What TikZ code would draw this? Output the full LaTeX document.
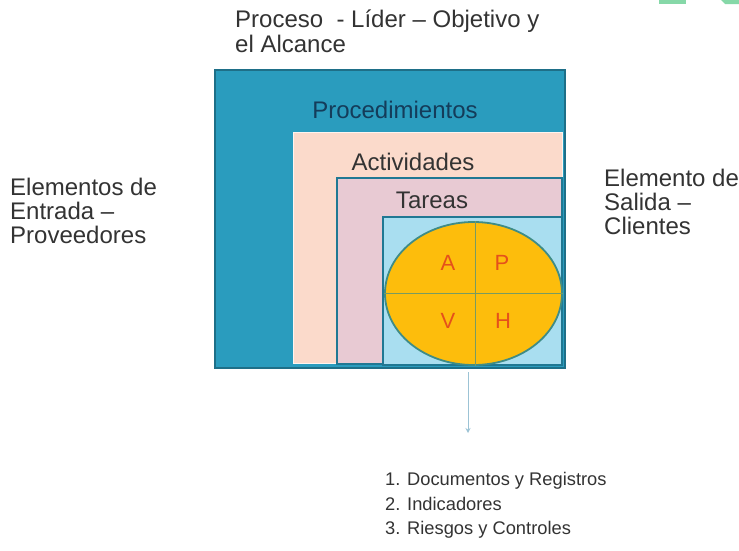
\documentclass[tikz,border=0pt]{standalone}
\usepackage{fontspec}
\setmainfont{Liberation Sans}
\usetikzlibrary{shapes.geometric,arrows.meta}
\definecolor{teal1}{HTML}{2A9CBE}
\definecolor{tealdark}{HTML}{1E6F88}
\definecolor{peach}{HTML}{FBDACB}
\definecolor{mauve}{HTML}{E8CAD3}
\definecolor{skyb}{HTML}{A9DEF0}
\definecolor{gold}{HTML}{FDBD0C}
\definecolor{ellb}{HTML}{3F8C86}
\definecolor{letr}{HTML}{E5501B}
\definecolor{navyt}{HTML}{143C5A}
\definecolor{txtg}{HTML}{333333}
\definecolor{arrowc}{HTML}{9CC3D5}
\definecolor{greenlogo}{HTML}{86D8A8}
\begin{document}
\begin{tikzpicture}[x=1pt,y=-1pt,
  boxst/.style={anchor=north west,inner sep=0pt,outer sep=0pt},
  inbox/.style={font=\fontsize{24}{24}\selectfont,anchor=base,inner sep=0pt},
  sidel/.style={font=\fontsize{24}{24}\selectfont,text=txtg,anchor=base west,inner sep=0pt},
  listl/.style={font=\fontsize{18.3}{24}\selectfont,text=txtg,anchor=base west,inner sep=0pt},
  letter/.style={font=\fontsize{22}{24}\selectfont,text=letr,anchor=base,inner sep=0pt}]
\useasboundingbox (0,0) rectangle (739,550);
\fill[white] (0,0) rectangle (739,550);
% logo fragments
\fill[greenlogo] (659,0) rectangle (686,3.5);
\fill[greenlogo] (721,0) -- (739,0) -- (739,4) -- (725,4) -- cycle;
% boxes
\node[boxst,draw=tealdark,line width=1.6pt,fill=teal1,minimum width=350pt,minimum height=298pt] (outer) at (215,70) {};
\node[boxst,draw=white!70!peach,line width=1pt,fill=peach,minimum width=269pt,minimum height=231pt] (act) at (293,132) {};
\node[boxst,draw=tealdark!80!teal1,line width=1.6pt,fill=mauve,minimum width=225pt,minimum height=186pt] (tar) at (337,178) {};
\node[boxst,draw=tealdark!80!teal1,line width=1.6pt,fill=skyb,minimum width=179pt,minimum height=148pt] (sky) at (383,217) {};
\node[ellipse,draw=ellb,line width=1.8pt,fill=gold,minimum width=177pt,minimum height=143pt,inner sep=0pt] (ell) at (473.5,293.5) {};
\draw[ellb!70!gold,line width=1pt] (ell.north -| 475,0) -- (ell.south -| 475,0);
\draw[ellb!70!gold,line width=1pt] (ell.west) -- (ell.east);
% labels in boxes
\node[inbox,text=navyt] (tproc) at (395,118) {Procedimientos};
\node[inbox,text=txtg] (tact) at (413,170) {Actividades};
\node[inbox,text=txtg] (ttar) at (432,208) {Tareas};
\node[letter] (lA) at (448,270) {A};
\node[letter] (lP) at (502,270) {P};
\node[letter] (lV) at (448,328) {V};
\node[letter] (lH) at (503,328) {H};
% top text
\node[sidel] (top1) at (235,27) {Proceso\ \ - Líder – Objetivo y};
\node[sidel] (top2) at (235,52) {el Alcance};
% left text
\node[sidel] (left1) at (10,195.5) {Elementos de};
\node[sidel] (left2) at (10,219.5) {Entrada –};
\node[sidel] (left3) at (10,243.5) {Proveedores};
% right text
\node[sidel] (right1) at (604,186.5) {Elemento de};
\node[sidel] (right2) at (604,210.5) {Salida –};
\node[sidel] (right3) at (604,234.5) {Clientes};
% arrow
\coordinate (aS) at (468,372);
\coordinate (aE) at (468,433);
\draw[arrowc,line width=0.8pt,-{Stealth[length=5pt,width=5pt,open]}] (aS) -- (aE);
% list
\node[listl] (n1) at (385,485.5) {1.};
\node[listl] (n2) at (385,510) {2.};
\node[listl] (n3) at (385,534.5) {3.};
\node[listl] (i1) at (407,485.5) {Documentos y Registros};
\node[listl] (i2) at (407,510) {Indicadores};
\node[listl] (i3) at (407,534.5) {Riesgos y Controles};
\end{tikzpicture}
\end{document}
